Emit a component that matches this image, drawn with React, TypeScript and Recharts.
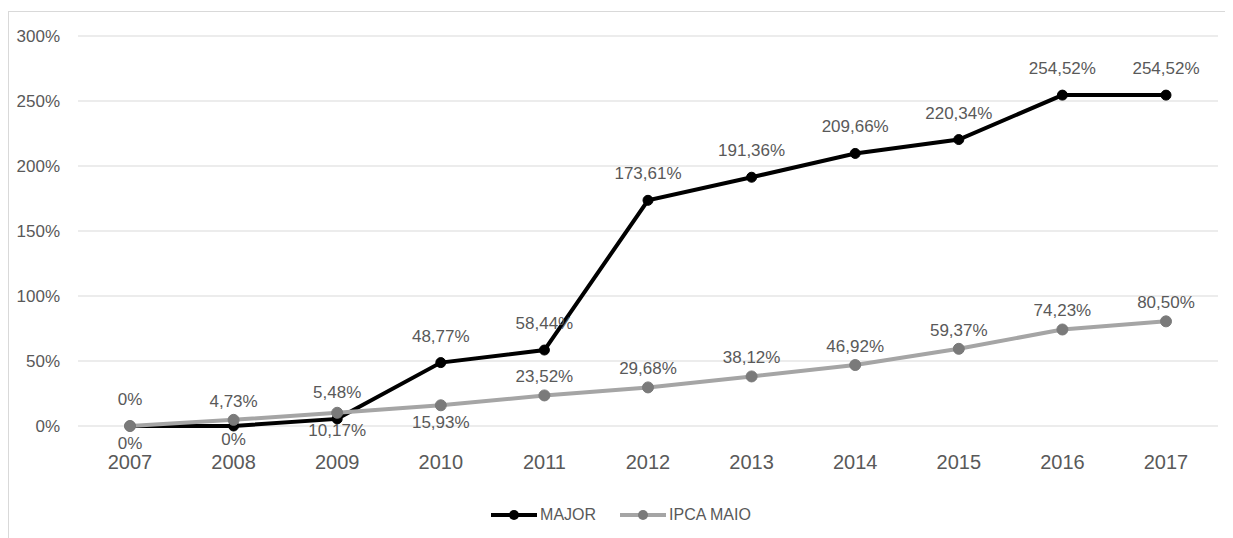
import React from 'react';
import {
  LineChart,
  Line,
  XAxis,
  YAxis,
  CartesianGrid,
  Legend,
  LabelList,
} from 'recharts';

const years = ['2007', '2008', '2009', '2010', '2011', '2012', '2013', '2014', '2015', '2016', '2017'];
const major = [0, 0, 5.48, 48.77, 58.44, 173.61, 191.36, 209.66, 220.34, 254.52, 254.52];
const ipca = [0, 4.73, 10.17, 15.93, 23.52, 29.68, 38.12, 46.92, 59.37, 74.23, 80.5];
const yTicks = [0, 50, 100, 150, 200, 250, 300];

// which side of the point each value label sits on
const majorSides = ['top', 'bottom', 'top', 'top', 'top', 'top', 'top', 'top', 'top', 'top', 'top'];
const ipcaSides = ['bottom', 'top', 'bottom', 'bottom', 'top', 'top', 'top', 'top', 'top', 'top', 'top'];

const data = years.map((year, i) => ({ year, major: major[i], ipca: ipca[i] }));

const FONT = '"Liberation Sans", Arial, sans-serif';
const TEXT = '#595959';
const BLACK = '#000000';
const GRAY_LINE = '#a5a5a5';
const GRAY_DOT = '#7a7a7a';

const fmt = (v: number) => (v === 0 ? '0%' : `${v.toFixed(2).replace('.', ',')}%`);

const makeLabel = (sides: string[], above: number, below: number) => (props: any) => {
  const { x, y, value, index } = props;
  const cy = sides[index] === 'bottom' ? y + below : y - above;
  return (
    <text
      x={x}
      y={cy}
      dy="0.35em"
      textAnchor="middle"
      fontFamily={FONT}
      fontSize={17}
      fill={TEXT}
    >
      {fmt(Number(value))}
    </text>
  );
};

const LegendContent = () => {
  const items = [
    { name: 'MAJOR', line: BLACK, dot: BLACK },
    { name: 'IPCA MAIO', line: GRAY_LINE, dot: GRAY_DOT },
  ];
  return (
    <div style={{ display: 'flex', justifyContent: 'center', alignItems: 'center', height: 30 }}>
      {items.map((it) => (
        <div key={it.name} style={{ display: 'flex', alignItems: 'center', margin: '0 12px' }}>
          <svg width={46} height={14}>
            <line x1={0} y1={7} x2={46} y2={7} stroke={it.line} strokeWidth={4} />
            <circle cx={23} cy={7} r={5} fill={it.dot} />
          </svg>
          <span style={{ fontFamily: FONT, fontSize: 16, color: TEXT, marginLeft: 3 }}>{it.name}</span>
        </div>
      ))}
    </div>
  );
};

export default function App() {
  return (
    <div
      style={{
        marginTop: 3,
        width: 1240,
        height: 540,
        borderTop: '1px solid #d9d9d9',
        borderLeft: '1px solid #d9d9d9',
        background: '#fff',
      }}
    >
      <LineChart
        width={1224}
        height={526}
        data={data}
        margin={{ top: 24, right: 15, bottom: 8, left: 0 }}
      >
        <CartesianGrid vertical={false} stroke="#d9d9d9" strokeWidth={1} />
        <XAxis
          dataKey="year"
          height={74}
          axisLine={false}
          tickLine={false}
          tickSize={0}
          tickMargin={29}
          padding={{ left: 52, right: 52 }}
          tick={{ fontFamily: FONT, fontSize: 20, fill: TEXT }}
        />
        <YAxis
          width={69}
          domain={[0, 300]}
          ticks={yTicks}
          axisLine={false}
          tickLine={false}
          tickSize={0}
          tickMargin={18}
          tickFormatter={(v) => `${v}%`}
          tick={{ fontFamily: FONT, fontSize: 17, fill: TEXT }}
        />
        <Legend
          verticalAlign="bottom"
          height={30}
          wrapperStyle={{ top: 488, left: 0, width: 1224, height: 30 }}
          content={<LegendContent />}
        />
        <Line
          dataKey="major"
          name="MAJOR"
          stroke={BLACK}
          strokeWidth={4}
          dot={{ r: 5, fill: BLACK, stroke: BLACK, strokeWidth: 1 }}
          activeDot={false}
          isAnimationActive={false}
        >
          <LabelList dataKey="major" content={makeLabel(majorSides, 27, 13)} />
        </Line>
        <Line
          dataKey="ipca"
          name="IPCA MAIO"
          stroke={GRAY_LINE}
          strokeWidth={4}
          dot={{ r: 5.5, fill: GRAY_DOT, stroke: GRAY_DOT, strokeWidth: 1 }}
          activeDot={false}
          isAnimationActive={false}
        >
          <LabelList dataKey="ipca" content={makeLabel(ipcaSides, 19, 17)} />
        </Line>
      </LineChart>
    </div>
  );
}
